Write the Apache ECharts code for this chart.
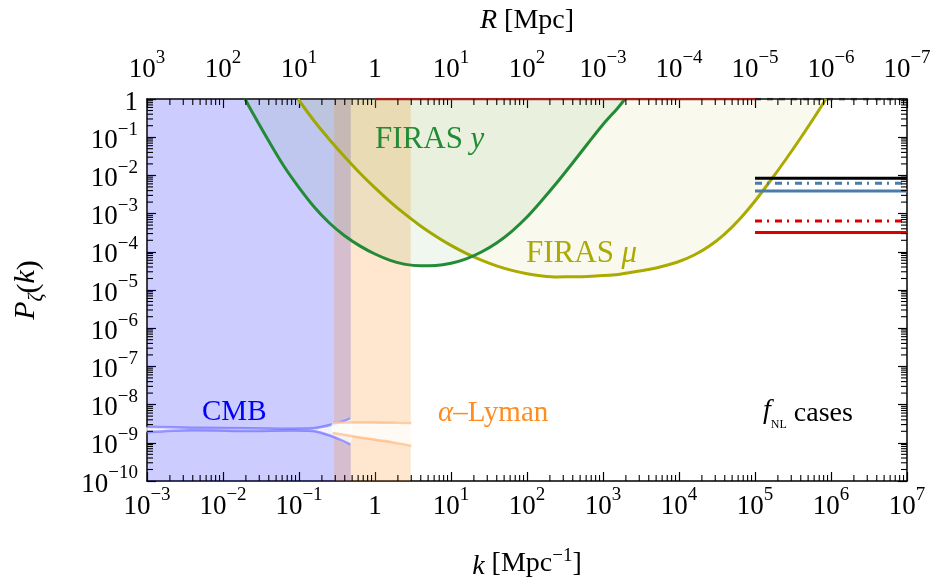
<!DOCTYPE html>
<html><head><meta charset="utf-8">
<script src="https://cdn.jsdelivr.net/npm/echarts@6/dist/echarts.min.js"></script>
<style>html,body{margin:0;padding:0;background:#fff}#c{width:942px;height:585px}</style>
</head><body><div id="c"></div>
<script>
// ---------- data ----------
const X_MIN = 1e-3, X_MAX = 1e7, Y_MIN = 1e-10, Y_MAX = 1;
const topTickLabels = [['10','3'],['10','2'],['10','1'],['1',''],['10','1'],['10','2'],['10','−3'],['10','−4'],['10','−5'],['10','−6'],['10','−7']];

const cmbRegion = [1e-3, 0.48];
const lymanRegion = [0.29, 2.95];

const firasYK = [0.0195, 0.02512, 0.03981, 0.0631, 0.1, 0.1585, 0.2512, 0.3981, 0.631, 1, 1.585, 2.512, 3.981, 6.31, 10, 15.85, 25.12, 39.81, 63.1, 100, 158.5, 251.2, 398.1, 631, 1000, 1585, 1945];
const firasYP = [1, 0.397, 0.0805, 0.0176, 4.80e-3, 1.49e-3, 5.68e-4, 2.64e-4, 1.43e-4, 8.75e-5, 5.98e-5, 4.68e-5, 4.31e-5, 4.38e-5, 5.03e-5, 6.56e-5, 9.89e-5, 1.70e-4, 3.44e-4, 8.15e-4, 2.27e-3, 6.71e-3, 0.0211, 0.0684, 0.215, 0.599, 1];

const firasMuK = [0.097, 0.1585, 0.2512, 0.3981, 0.631, 1, 1.585, 2.512, 3.981, 6.31, 10, 15.85, 25.12, 39.81, 63.1, 100, 158.5, 251.2, 398.1, 631, 1000, 1585, 2512, 3981, 6310, 1e4, 15850, 25120, 39810, 63100, 1e5, 158500, 251200, 398100, 631000, 859000];
const firasMuP = [1, 0.265, 0.0871, 0.0307, 0.01156, 4.71e-3, 2.04e-3, 9.53e-4, 4.76e-4, 2.56e-4, 1.47e-4, 9.08e-5, 6.03e-5, 4.27e-5, 3.26e-5, 2.67e-5, 2.34e-5, 2.20e-5, 2.22e-5, 2.27e-5, 2.38e-5, 2.56e-5, 2.96e-5, 3.44e-5, 4.25e-5, 5.57e-5, 8.24e-5, 1.42e-4, 2.92e-4, 7.23e-4, 2.14e-3, 7.13e-3, 0.0253, 0.0953, 0.381, 1];

const cmbK = [1e-3, 3.68e-3, 0.0226, 0.152, 0.279, 0.469];
const cmbUpper = [2.64e-9, 2.48e-9, 2.40e-9, 2.40e-9, 3.05e-9, 4.38e-9];
const cmbLower = [1.88e-9, 2.12e-9, 2.04e-9, 2.04e-9, 1.45e-9, 9.1e-10];

const lymanK = [0.28, 0.58, 1.36, 3.0];
const lymanUpper = [3.4e-9, 3.4e-9, 3.35e-9, 3.3e-9];
const lymanLower = [1.8e-9, 1.42e-9, 1.11e-9, 8.2e-10];

const topBoundK = [1, 1e5];
const topBoundP = [1, 1];
const topDashK = [1e5, 1e7];

const fnlK = [1e5, 1e7];
const fnlLevels = [8.4e-3, 6.2e-3, 3.9e-3, 6.4e-4, 3.2e-4];

// ---------- styles ----------
const FONT = "'Liberation Serif', 'DejaVu Serif', serif";
const fnlStyles = [
  {color:'#000000', type:'solid', width:3},
  {color:'#4a7bab', type:[7,5,2,6], width:3},
  {color:'#4a7bab', type:'solid', width:3},
  {color:'#dd0000', type:[7,5,2,6], width:3},
  {color:'#dd0000', type:'solid', width:3}
];

function minorVals(lo, hi){ const v=[]; for(let e=lo;e<hi;e++) for(let m=2;m<=9;m++) v.push(m*Math.pow(10,e)); return v; }
const minorX = minorVals(-3, 7);
const minorY = minorVals(-10, 0);

function expOf(v){ return Math.round(Math.log10(v)); }
function powLabel(v){
  const e = expOf(v);
  if (e === 0) return '{b|1}';
  return '{b|10}{s|' + (e < 0 ? '−' + (-e) : e) + '}';
}
const labelRich = {
  b: {fontFamily: FONT, fontSize: 27, lineHeight: 34, verticalAlign: 'bottom', color:'#000'},
  s: {fontFamily: FONT, fontSize: 19, lineHeight: 20, verticalAlign: 'top', color:'#000'}
};
const axisLineStyle = {show:true, onZero:false, lineStyle:{color:'#000', width:1.5}};
const tickStyle = {show:true, inside:true, length:9, lineStyle:{color:'#000', width:1.2}};

const chart = echarts.init(document.getElementById('c'), null, {renderer:'canvas'});

const series = [];
// shaded constraint regions
series.push({
  type:'line', data:[], silent:true, xAxisIndex:0, yAxisIndex:0,
  markArea:{silent:true, itemStyle:{color:'rgba(0,0,255,0.2)'}, data:[[{xAxis:cmbRegion[0]},{xAxis:cmbRegion[1]}]]},
  z:1
});
series.push({
  type:'line', data:[], silent:true, xAxisIndex:0, yAxisIndex:0,
  markArea:{silent:true, itemStyle:{color:'rgba(255,140,30,0.22)'}, data:[[{xAxis:lymanRegion[0]},{xAxis:lymanRegion[1]}]]},
  z:1
});
// FIRAS mu
series.push({
  type:'line', smooth:0.3, symbol:'none', z:3,
  data: firasMuK.map((k,i)=>[k, firasMuP[i]]),
  lineStyle:{color:'#aaaa00', width:3},
  areaStyle:{origin:'end', color:'rgba(170,170,0,0.10)'}
});
// FIRAS y
series.push({
  type:'line', smooth:0.3, symbol:'none', z:4,
  data: firasYK.map((k,i)=>[k, firasYP[i]]),
  lineStyle:{color:'#238b36', width:3},
  areaStyle:{origin:'end', color:'rgba(34,139,34,0.10)'}
});
// bands (CMB, Lyman-alpha): whitish interior drawn through the axes' scales
function bandSeries(ks, up, lo, stroke){
  return {
    type:'custom', z:5, silent:true,
    data:[[ks[0], up[0]]],
    renderItem:(params, api)=>{
      const top = ks.map((k,i)=>api.coord([k, up[i]]));
      const bot = ks.map((k,i)=>api.coord([k, lo[i]]));
      const poly = top.concat(bot.slice().reverse());
      return {type:'group', children:[
        {type:'polygon', shape:{points:poly, smooth:0.3}, style:{fill:'rgba(255,255,255,0.78)', stroke:null}},
        {type:'polyline', shape:{points:top, smooth:0.3}, style:{stroke:stroke, lineWidth:2.5, fill:null}},
        {type:'polyline', shape:{points:bot, smooth:0.3}, style:{stroke:stroke, lineWidth:2.5, fill:null}}
      ]};
    }
  };
}
series.push(bandSeries(cmbK, cmbUpper, cmbLower, 'rgba(90,90,255,0.6)'));
series.push(bandSeries(lymanK, lymanUpper, lymanLower, 'rgba(255,150,60,0.45)'));
// top boundary lines
series.push({type:'line', symbol:'none', z:6, data: topBoundK.map((k,i)=>[k, topBoundP[i]]), lineStyle:{color:'#a02020', width:2.5}});
series.push({type:'line', symbol:'none', z:6, data: topDashK.map(k=>[k, 1]), lineStyle:{color:'#222', width:2.5, type:[6,6]}});
// f_NL cases
fnlLevels.forEach((p,i)=>{
  series.push({type:'line', symbol:'none', z:7, data: fnlK.map(k=>[k,p]), lineStyle: fnlStyles[i]});
});
// minor ticks (log-spaced) on all four sides
series.push({
  type:'custom', z:10, silent:true, clip:false,
  data: minorX.map(k=>[k, 1e-5]),
  renderItem:(params, api)=>{
    const k = api.value(0);
    const b = api.coord([k, Y_MIN]), t = api.coord([k, Y_MAX]);
    const st = {stroke:'#000', lineWidth:1.1};
    return {type:'group', children:[
      {type:'line', shape:{x1:b[0],y1:b[1],x2:b[0],y2:b[1]-6}, style:st},
      {type:'line', shape:{x1:t[0],y1:t[1],x2:t[0],y2:t[1]+6}, style:st}
    ]};
  }
});
series.push({
  type:'custom', z:10, silent:true, clip:false,
  data: minorY.map(p=>[1, p]),
  renderItem:(params, api)=>{
    const p = api.value(1);
    const l = api.coord([X_MIN, p]), r = api.coord([X_MAX, p]);
    const st = {stroke:'#000', lineWidth:1.1};
    return {type:'group', children:[
      {type:'line', shape:{x1:l[0],y1:l[1],x2:l[0]+6,y2:l[1]}, style:st},
      {type:'line', shape:{x1:r[0],y1:r[1],x2:r[0]-6,y2:r[1]}, style:st}
    ]};
  }
});

const option = {
  animation:false,
  backgroundColor:'#fff',
  grid:{left:147, right:35, top:99, bottom:104, containLabel:false, outerBoundsMode:'none'},
  xAxis:[
    {type:'log', logBase:10, min:X_MIN, max:X_MAX, interval:1, position:'bottom',
     axisLine:axisLineStyle, axisTick:tickStyle, splitLine:{show:false}, minorTick:{show:false},
     axisLabel:{margin:5, showMinLabel:true, showMaxLabel:true, hideOverlap:false, formatter:powLabel, rich:labelRich, color:'#000'},
     name:'{i|k} [Mpc{s|−1}]', nameLocation:'middle', nameGap:66, nameMoveOverlap:false,
     nameTextStyle:{fontFamily:FONT, fontSize:28, color:'#000', rich:{i:{fontFamily:FONT, fontStyle:'italic', fontSize:28, lineHeight:34, verticalAlign:'bottom'}, s:{fontFamily:FONT, fontSize:19, lineHeight:20, verticalAlign:'top'}}}
    },
    {type:'log', logBase:10, min:X_MIN, max:X_MAX, interval:1, position:'top',
     axisLine:axisLineStyle, axisTick:tickStyle, splitLine:{show:false}, minorTick:{show:false},
     axisLabel:{margin:16, showMinLabel:true, showMaxLabel:true, hideOverlap:false, rich:labelRich, color:'#000',
       formatter:(v)=>{ const l = topTickLabels[expOf(v)+3]; return l[1] ? '{b|'+l[0]+'}{s|'+l[1]+'}' : '{b|'+l[0]+'}'; }},
     name:'{i|R} [Mpc]', nameLocation:'middle', nameGap:64, nameMoveOverlap:false,
     nameTextStyle:{fontFamily:FONT, fontSize:28, color:'#000', rich:{i:{fontFamily:FONT, fontStyle:'italic', fontSize:28}}}
    }
  ],
  yAxis:[
    {type:'log', logBase:10, min:Y_MIN, max:Y_MAX, interval:1, position:'left',
     axisLine:axisLineStyle, axisTick:tickStyle, splitLine:{show:false}, minorTick:{show:false},
     axisLabel:{margin:9, showMinLabel:true, showMaxLabel:true, hideOverlap:false, formatter:powLabel, rich:labelRich, color:'#000'},
     name:'{i|P}{sub|ζ}({i|k})', nameLocation:'middle', nameRotate:90, nameGap:100, nameMoveOverlap:false,
     nameTextStyle:{fontFamily:FONT, fontSize:30, color:'#000', rich:{i:{fontFamily:FONT, fontStyle:'italic', fontSize:30, lineHeight:36, verticalAlign:'top'}, sub:{fontFamily:FONT, fontStyle:'italic', fontSize:20, lineHeight:36, verticalAlign:'bottom'}}}
    },
    {type:'log', logBase:10, min:Y_MIN, max:Y_MAX, interval:1, position:'right',
     axisLine:axisLineStyle, axisTick:tickStyle, splitLine:{show:false}, minorTick:{show:false},
     axisLabel:{show:false}}
  ],
  graphic:[
    {type:'text', left:375, top:124, z:100, style:{text:'FIRAS {i|y}', fontFamily:FONT, fontSize:31, fill:'#238b36', rich:{i:{fontFamily:FONT, fontStyle:'italic', fontSize:31, fill:'#238b36'}}}},
    {type:'text', left:526, top:238, z:100, style:{text:'FIRAS {i|μ}', fontFamily:FONT, fontSize:31, fill:'#aaaa00', rich:{i:{fontFamily:FONT, fontStyle:'italic', fontSize:31, fill:'#aaaa00'}}}},
    {type:'text', left:202, top:398, z:100, style:{text:'CMB', fontFamily:FONT, fontSize:29, fill:'#0000ff'}},
    {type:'text', left:438, top:399, z:100, style:{text:'{i|α}–Lyman', fontFamily:FONT, fontSize:29, fill:'#ff8c1e', rich:{i:{fontFamily:FONT, fontStyle:'italic', fontSize:29, fill:'#ff8c1e'}}}},
    {type:'text', left:763, top:397, z:100, style:{text:'{i|f}{sub|NL} cases', fontFamily:FONT, fontSize:28, fill:'#000', rich:{i:{fontFamily:FONT, fontStyle:'italic', fontSize:28, lineHeight:34, verticalAlign:'top', fill:'#000'}, sub:{fontFamily:FONT, fontSize:12, lineHeight:22, verticalAlign:'bottom', fill:'#000'}}}}
  ],
  series: series
};
chart.setOption(option);
</script>
</body></html>
